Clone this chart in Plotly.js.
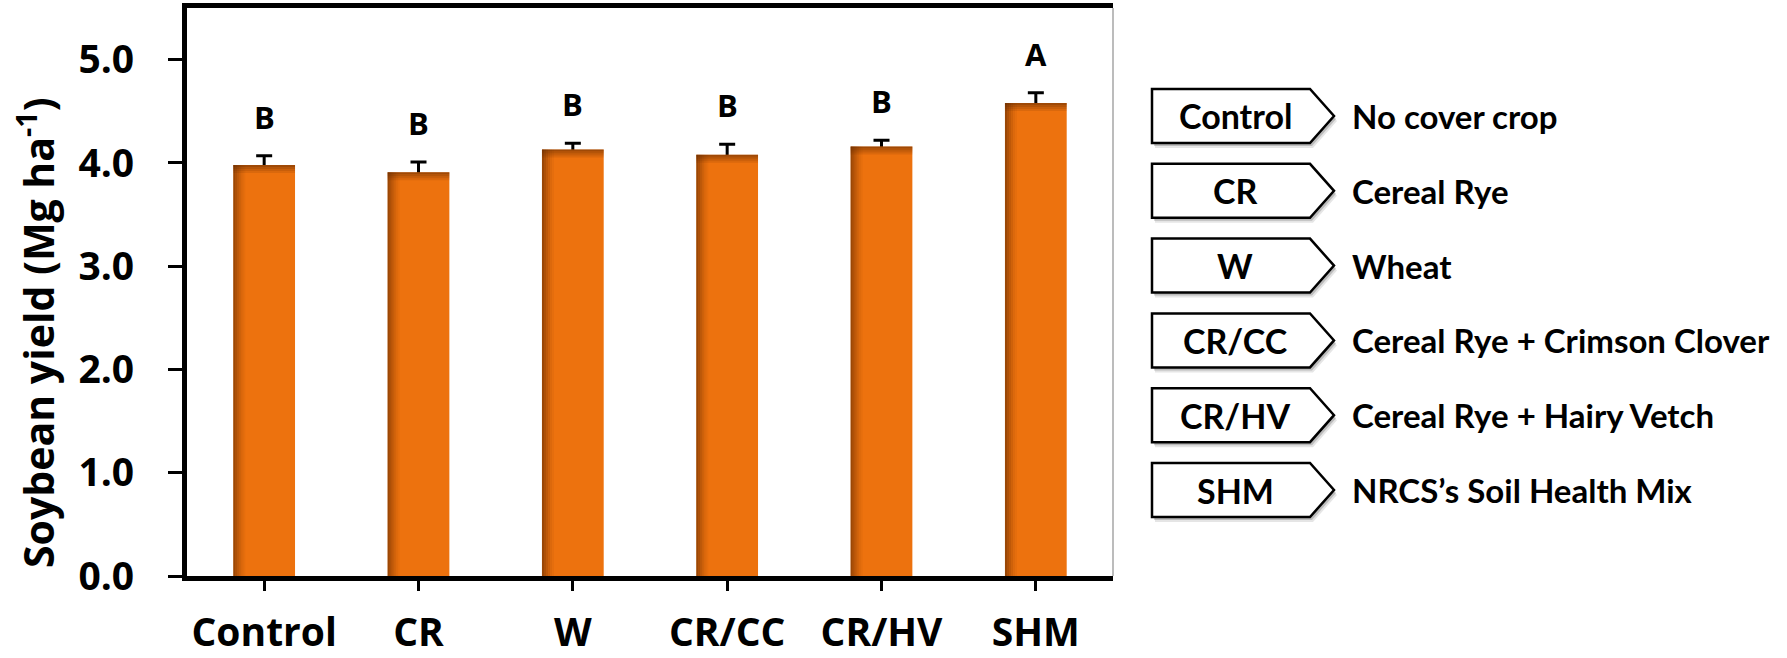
<!DOCTYPE html>
<html>
<head>
<meta charset="utf-8">
<script src="https://cdn.plot.ly/plotly-3.0.1.min.js"></script>
<style>html,body{margin:0;padding:0;background:#fff;}#chart{width:1787px;height:658px;}</style>
</head>
<body>
<div id="chart"></div>
<script>
// ---- data ----
const categories = ['Control', 'CR', 'W', 'CR/CC', 'CR/HV', 'SHM'];
const yields = [3.98, 3.91, 4.13, 4.08, 4.16, 4.58];
const errors = [0.09, 0.10, 0.06, 0.10, 0.06, 0.10];
const letters = ['B', 'B', 'B', 'B', 'B', 'A'];
const yTicks = [0, 1, 2, 3, 4, 5];
const yTitle = 'Soybean yield (Mg ha<sup>-1</sup>)';
const legendCodes = ['Control', 'CR', 'W', 'CR/CC', 'CR/HV', 'SHM'];
const legendNames = ['No cover crop', 'Cereal Rye', 'Wheat', 'Cereal Rye + Crimson Clover', 'Cereal Rye + Hairy Vetch', 'NRCS\u2019s Soil Health Mix'];

// ---- layout geometry (px) ----
const W = 1787, H = 658, L = 187, R = 1113, T = 8, B = 576;
const px = x => (x - L) / (R - L);
const py = y => (B - y) / (B - T);
const BAR_W = 0.4;
const ORANGE = '#ED720E';
const AXIS_FONT = 'Open Sans, DejaVu Sans, sans-serif';
const LEG_FONT = 'Lato, Open Sans, sans-serif';

const traces = [];
// error bars first (bars drawn afterwards hide the lower part, as in the original)
traces.push({
  type: 'bar', x: categories, y: yields, width: BAR_W, offset: -BAR_W / 2,
  marker: { color: 'rgba(0,0,0,0)', line: { width: 0 } },
  error_y: { type: 'data', symmetric: true, array: errors,
             color: '#000', thickness: 3, width: 8 },
  hoverinfo: 'skip', showlegend: false
});
traces.push({
  type: 'bar', x: categories, y: yields, width: BAR_W, offset: -BAR_W / 2,
  marker: { color: ORANGE, line: { width: 0 } },
  hoverinfo: 'x+y', showlegend: false
});
// bevel shading: left edge
const stripW = 2 / ((R - L) / categories.length);
const leftAlphas = [0.58, 0.45, 0.33, 0.22, 0.12, 0.05];
leftAlphas.forEach((a, k) => {
  traces.push({
    type: 'bar', x: categories, y: yields, width: stripW, offset: -BAR_W / 2 + k * stripW,
    marker: { color: 'rgba(95,40,0,' + a + ')', line: { width: 0 } },
    hoverinfo: 'skip', showlegend: false
  });
});
// bevel shading: top edge
const dy = 2 / ((B - T) / 5.5);
const topAlphas = [0.55, 0.4, 0.26, 0.13];
topAlphas.forEach((a, k) => {
  traces.push({
    type: 'bar', x: categories, y: yields.map(() => dy), base: yields.map(v => v - (k + 1) * dy),
    width: BAR_W, offset: -BAR_W / 2,
    marker: { color: 'rgba(95,40,0,' + a + ')', line: { width: 0 } },
    hoverinfo: 'skip', showlegend: false
  });
});

// letters above error bars
const annotations = categories.map((c, i) => ({
  x: c, xref: 'x', y: yields[i] + errors[i], yref: 'y',
  text: '<b>' + letters[i] + '</b>', showarrow: false,
  yanchor: 'middle', yshift: 39,
  font: { family: AXIS_FONT, size: 31, color: '#000' }
}));

// y-axis title (placed as in the original: slightly below the plot centre)
annotations.push({
  x: px(36), xref: 'paper', y: py(333), yref: 'paper', text: '<b>' + yTitle + '</b>',
  textangle: -90, showarrow: false, xanchor: 'center', yanchor: 'middle',
  font: { family: AXIS_FONT, size: 41, color: '#000' }
});

// legend-like arrow boxes
const shapes = [];
shapes.push({ type: 'line', xref: 'paper', yref: 'paper', x0: 1, x1: 1, y0: 0, y1: 1,
              line: { color: '#A6A6A6', width: 1.5 } });
legendCodes.forEach((code, i) => {
  const cy = 116 + i * 74.8;
  const x0 = 1152, x1 = 1310, xp = 1334, top = cy - 27, bot = cy + 27;
  const mk = (dx, dyy) => 'M' + px(x0 + dx) + ',' + py(top + dyy) + ' L' + px(x1 + dx) + ',' + py(top + dyy) +
    ' L' + px(xp + dx) + ',' + py(cy + dyy) + ' L' + px(x1 + dx) + ',' + py(bot + dyy) +
    ' L' + px(x0 + dx) + ',' + py(bot + dyy) + ' Z';
  shapes.push({ type: 'path', xref: 'paper', yref: 'paper', path: mk(3, 5), fillcolor: 'rgba(0,0,0,0.10)', line: { width: 0 } });
  shapes.push({ type: 'path', xref: 'paper', yref: 'paper', path: mk(2, 3), fillcolor: 'rgba(0,0,0,0.18)', line: { width: 0 } });
  shapes.push({ type: 'path', xref: 'paper', yref: 'paper', path: mk(0, 0), fillcolor: '#fff', line: { color: '#000', width: 2.5 } });
  annotations.push({
    x: px(1235), xref: 'paper', y: py(cy), yref: 'paper', text: '<b>' + code + '</b>', showarrow: false,
    xanchor: 'center', yanchor: 'middle', font: { family: LEG_FONT, size: 34, color: '#000' }
  });
  annotations.push({
    x: px(1350), xref: 'paper', y: py(cy), yref: 'paper', text: '<b>' + legendNames[i] + '</b>', showarrow: false,
    xanchor: 'left', yanchor: 'middle', font: { family: LEG_FONT, size: 33, color: '#000' }
  });
});

const layout = {
  width: W, height: H,
  margin: { l: L, r: W - R, t: T, b: H - B },
  paper_bgcolor: '#fff', plot_bgcolor: '#fff',
  barmode: 'overlay', showlegend: false,
  xaxis: {
    type: 'category', showgrid: false, zeroline: false,
    showline: true, linecolor: '#000', linewidth: 5, mirror: true,
    ticks: 'outside', ticklen: 10, tickwidth: 3, tickcolor: '#000',
    ticklabelstandoff: 8,
    tickfont: { family: AXIS_FONT, size: 39, color: '#000', weight: 'bold' }
  },
  yaxis: {
    range: [0, 5.5], tickvals: yTicks, tickformat: '.1f', showgrid: false, zeroline: false,
    showline: true, linecolor: '#000', linewidth: 5,
    ticks: 'outside', ticklen: 14, tickwidth: 3, tickcolor: '#000',
    ticklabelstandoff: 26,
    tickfont: { family: AXIS_FONT, size: 39, color: '#000', weight: 'bold' }
  },
  shapes: shapes,
  annotations: annotations
};

Plotly.newPlot('chart', traces, layout, { displayModeBar: false, staticPlot: true });
</script>
</body>
</html>
